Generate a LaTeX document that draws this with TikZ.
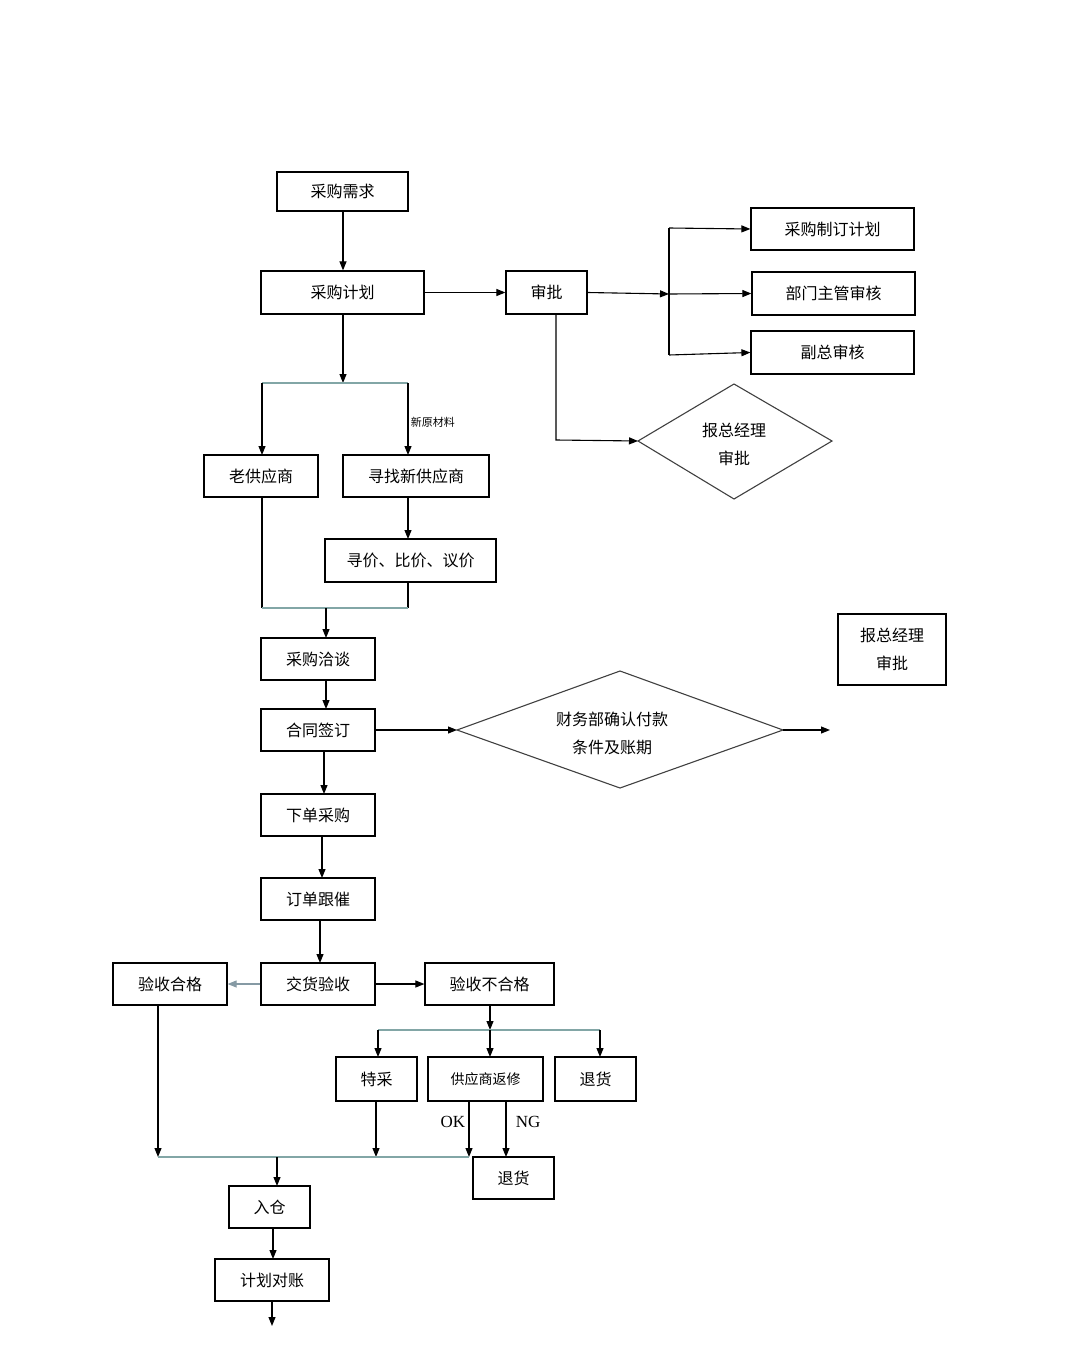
\documentclass[tikz,border=0pt]{standalone}
\usepackage{fontspec}
\setmainfont{Liberation Serif}
\newfontfamily\cjk{Noto Sans CJK SC}[Scale=1]
\usetikzlibrary{arrows.meta}
\begin{document}
\begin{tikzpicture}[x=1pt,y=-1pt,
  box/.style={draw,line width=1.2pt,inner sep=0pt,font=\cjk\fontsize{16}{20}\selectfont},
  dia/.style={draw=black!75,line width=1.1pt,font=\cjk\fontsize{16}{28}\selectfont,align=center},
  arr/.style={-{Triangle[length=9pt,width=7pt]},line width=1.1pt},
  ln/.style={line width=1.1pt},
  bl/.style={line width=1.1pt,draw=teal!40!gray!70}]
\useasboundingbox (0,0) rectangle (1080,1356);
\newcommand\bx[6]{\node[box,minimum width=#4-#2,minimum height=#5-#3] (#1) at ({(#2+#4)/2},{(#3+#5)/2}) {#6};}
\bx{xq}{277}{172}{408}{211}{采购需求}
\bx{jh}{261}{271}{424}{314}{采购计划}
\bx{sp}{506}{271}{587}{314}{审批}
\bx{zd}{751}{208}{914}{250}{采购制订计划}
\bx{bm}{752}{272}{915}{315}{部门主管审核}
\bx{fz}{751}{331}{914}{374}{副总审核}
\bx{lg}{204}{455}{318}{497}{老供应商}
\bx{xz}{343}{455}{489}{497}{寻找新供应商}
\bx{xj}{325}{539}{496}{582}{寻价、比价、议价}
\bx{qt}{261}{638}{375}{680}{采购洽谈}
\bx{ht}{261}{709}{375}{751}{合同签订}
\node[box,minimum width=108,minimum height=71,align=center,font=\cjk\fontsize{16}{28}\selectfont] (zj2) at (892,649.5) {报总经理\\审批};
\bx{xd}{261}{794}{375}{836}{下单采购}
\bx{gc}{261}{878}{375}{920}{订单跟催}
\bx{js}{261}{963}{375}{1005}{交货验收}
\bx{hg}{113}{963}{227}{1005}{验收合格}
\bx{bhg}{425}{963}{554}{1005}{验收不合格}
\bx{tc}{336}{1057}{417}{1101}{特采}
\bx{fx}{428}{1057}{543}{1101}{\fontsize{14}{18}\selectfont 供应商返修}
\bx{th}{555}{1057}{636}{1101}{退货}
\bx{th2}{473}{1157}{554}{1199}{退货}
\bx{rc}{229}{1186}{310}{1228}{入仓}
\bx{dz}{215}{1259}{329}{1301}{计划对账}
% diamonds
\draw[dia] (638,441) coordinate (zjL) -- (734,384) -- (832,441) -- (734,499) -- cycle;
\node[dia,draw=none] (zj) at (734,444) {报总经理\\审批};
\draw[dia] (457,730) coordinate (cwL) -- (620,671) -- (783,730) coordinate (cwR) -- (620,788) -- cycle;
\node[dia,draw=none] (cw) at (612,733) {财务部确认付款\\条件及账期};
\coordinate (cwE) at (830,730);
% connectors
\draw[arr] (xq.south -| 343,0) -- (jh.north -| 343,0);
\draw[arr] (jh) -- (sp);
\coordinate (sj) at (669,294);
\draw[arr] (sp.east) -- (sj);
\draw[ln] (669,228) -- (669,355);
\draw[arr] (669,228) -- (zd.west);
\draw[arr] (sj) -- (bm.west);
\draw[arr] (669,355) -- (fz.west);
\draw[arr] (556,314) -- (556,440) -- (zjL);
\draw[arr] (343,314) -- (343,383);
\draw[bl] (262,383) -- (408,383);
\draw[arr] (262,383) -- (262,455);
\draw[arr] (408,383) -- node[right,font=\cjk\fontsize{11}{12}\selectfont,pos=0.55,xshift=-1pt]{新原材料} (408,455);
\draw[arr] (408,497) -- (408,539);
\draw[ln] (262,497) -- (262,608);
\draw[ln] (408,582) -- (408,608);
\draw[bl] (262,608) -- (408,608);
\draw[arr] (326,608) -- (326,638);
\draw[arr] (326,680) -- (326,709);
\draw[arr] (ht.east) -- (cwL);
\draw[arr] (cwR) -- (cwE);
\draw[arr] (324,751) -- (324,794);
\draw[arr] (322,836) -- (322,878);
\draw[arr] (320,920) -- (320,963);
\draw[arr,draw=gray!80!cyan,-{Triangle[length=9pt,width=7pt,fill=gray!80!cyan]}] (js.west) -- (hg.east);
\draw[arr] (js.east) -- (bhg.west);
\draw[arr] (490,1005) -- (490,1030);
\draw[bl] (378,1030) -- (600,1030);
\draw[arr] (378,1030) -- (378,1057);
\draw[arr] (490,1030) -- (490,1057);
\draw[arr] (600,1030) -- (600,1057);
\draw[arr] (158,1005) -- (158,1157);
\draw[arr] (376,1101) -- (376,1157);
\draw[arr] (469,1101) -- node[left,font=\fontsize{17}{20}\selectfont,pos=0.38]{OK} (469,1157);
\draw[arr] (506,1101) -- node[right,font=\fontsize{17}{20}\selectfont,pos=0.38,xshift=6pt]{NG} (506,1157);
\draw[bl] (158,1157) -- (469,1157);
\draw[arr] (277,1157) -- (277,1186);
\draw[arr] (273,1228) -- (273,1259);
\coordinate (end) at (272,1326);
\draw[arr] (272,1301) -- (end);
\end{tikzpicture}
\end{document}
